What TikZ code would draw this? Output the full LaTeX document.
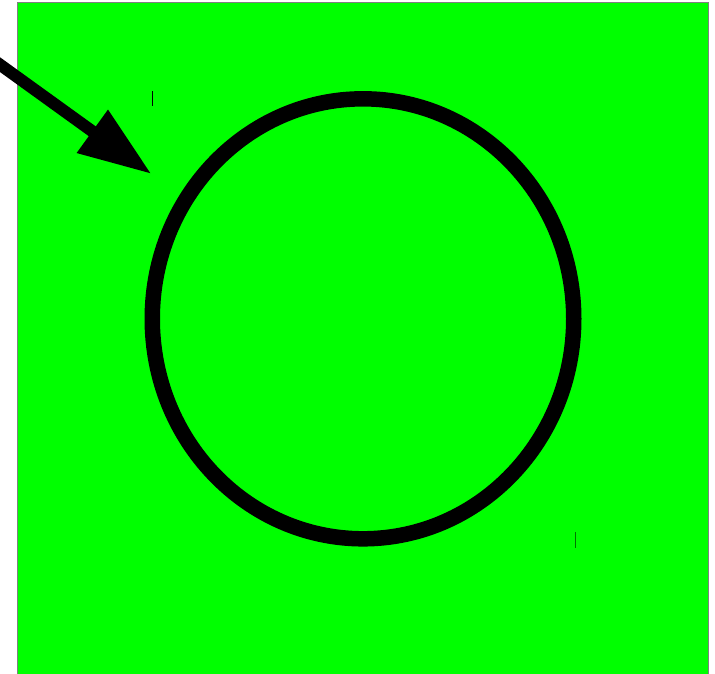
\documentclass[tikz,border=0pt]{standalone}
\usetikzlibrary{arrows.meta,shapes.geometric}
\definecolor{bggreen}{RGB}{0,255,0}
\tikzset{
  panel/.style={fill=bggreen, draw=gray, line width=1.2pt},
  ring/.style={ellipse, draw=black, line width=15.5pt, inner sep=0pt,
    minimum width=421.5pt, minimum height=440pt},
  pointer/.style={line width=12pt, -{Triangle[length=73pt,width=50pt]}},
  tick/.style={draw=black, line width=1pt}
}
\begin{document}
\begin{tikzpicture}[x=1pt,y=-1pt]
\useasboundingbox (0,0) rectangle (715,673);
\clip (0,0) rectangle (715,673);
\draw[panel] (17.5,2.5) rectangle (708.5,690);
\node[ring] (c) at (363,318.8) {};
\coordinate (s) at (-30,43);
\coordinate (t) at (151.5,174);
\draw[pointer] (s) -- (t);
\coordinate (m1a) at (152.3,91);
\coordinate (m1b) at (152.3,105.7);
\coordinate (m2a) at (575,532);
\coordinate (m2b) at (575,547.7);
\draw[tick] (m1a) -- (m1b);
\draw[tick, draw opacity=0.55] (m2a) -- (m2b);
\end{tikzpicture}
\end{document}
